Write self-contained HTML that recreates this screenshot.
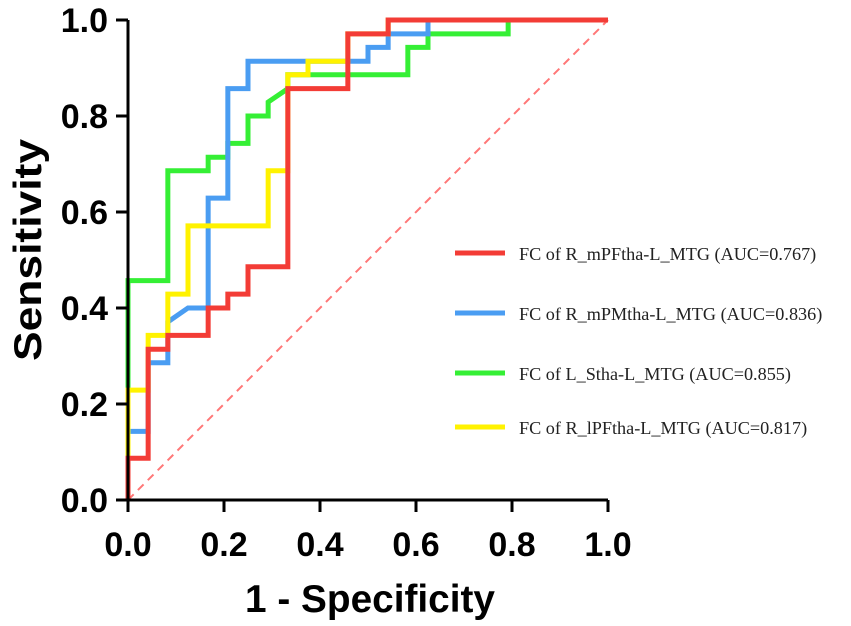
<!DOCTYPE html>
<html><head><meta charset="utf-8"><style>
body{margin:0;background:#fff}
svg{display:block}
.tick{font-family:"Liberation Sans",sans-serif;font-weight:bold;font-size:34px;fill:#000}
.leg{font-family:"Liberation Serif",serif;font-size:18.2px;fill:#222}
</style></head><body>
<svg id="chart" width="851" height="626" xmlns="http://www.w3.org/2000/svg">
<g id="plot"></g>
<g id="axes"></g>
<text x="370" y="612" text-anchor="middle" textLength="250" lengthAdjust="spacingAndGlyphs" style="font-family:'Liberation Sans',sans-serif;font-weight:bold;font-size:39px">1 - Specificity</text>
<text transform="translate(41,250) rotate(-90)" text-anchor="middle" textLength="222" lengthAdjust="spacingAndGlyphs" style="font-family:'Liberation Sans',sans-serif;font-weight:bold;font-size:39px">Sensitivity</text>
<g id="legend"></g>
</svg>
<script>
const tickVals=[0,0.2,0.4,0.6,0.8,1.0];
const tickLabels=["0.0","0.2","0.4","0.6","0.8","1.0"];
const seriesNames=["FC of R_mPFtha-L_MTG (AUC=0.767)","FC of R_mPMtha-L_MTG (AUC=0.836)","FC of L_Stha-L_MTG (AUC=0.855)","FC of R_lPFtha-L_MTG (AUC=0.817)"];
const seriesColors=["#f33c36","#4a9df2","#35ef35","#fff200"];
const redX=[0,0,0.042,0.042,0.083,0.083,0.167,0.167,0.208,0.208,0.25,0.25,0.333,0.333,0.458,0.458,0.542,0.542,1];
const redY=[0,0.087,0.087,0.314,0.314,0.343,0.343,0.4,0.4,0.429,0.429,0.486,0.486,0.857,0.857,0.971,0.971,1,1];
const blueX=[0,0,0.042,0.042,0.083,0.083,0.125,0.167,0.167,0.208,0.208,0.25,0.25,0.5,0.5,0.542,0.542,0.625,0.625,1];
const blueY=[0,0.143,0.143,0.286,0.286,0.371,0.4,0.4,0.629,0.629,0.857,0.857,0.914,0.914,0.943,0.943,0.971,0.971,1,1];
const greenX=[0,0,0,0.083,0.083,0.167,0.167,0.208,0.208,0.25,0.25,0.292,0.292,0.333,0.333,0.583,0.583,0.625,0.625,0.792,0.792,1];
const greenY=[0,0.229,0.457,0.457,0.686,0.686,0.714,0.714,0.743,0.743,0.8,0.8,0.829,0.857,0.886,0.886,0.943,0.943,0.971,0.971,1,1];
const yellowX=[0,0,0.042,0.042,0.083,0.083,0.125,0.125,0.292,0.292,0.333,0.333,0.375,0.375,0.458,0.458,0.542,0.542,1];
const yellowY=[0.086,0.229,0.229,0.343,0.343,0.429,0.429,0.571,0.571,0.686,0.686,0.886,0.886,0.914,0.914,0.971,0.971,1,1];
const NS="http://www.w3.org/2000/svg";
const X0=128,X1=608,Y0=500,Y1=20;
function sx(v){return X0+v*(X1-X0);}
function sy(v){return Y0-v*(Y0-Y1);}
function mk(t,a){const e=document.createElementNS(NS,t);for(const k in a)e.setAttribute(k,a[k]);return e;}
const plot=document.getElementById('plot'),axes=document.getElementById('axes'),leg=document.getElementById('legend');
const diag=mk('line',{x1:sx(0),y1:sy(0),x2:sx(1),y2:sy(1),stroke:'#f77',"stroke-width":2,"stroke-dasharray":"8,6"});


plot.appendChild(diag);
const series=[[redX,redY],[blueX,blueY],[greenX,greenY],[yellowX,yellowY]];
const names=['roc-curve-r-mpftha','roc-curve-r-mpmtha','roc-curve-l-stha','roc-curve-r-lpftha'];
[2,1,3,0].forEach(i=>{
 const [xs,ys]=series[i];
 const pts=xs.map((x,j)=>sx(x)+','+sy(ys[j])).join(' ');
 const p=mk('polyline',{points:pts,fill:'none',stroke:seriesColors[i],"stroke-width":5,"stroke-linejoin":"miter"});
 
 
 plot.appendChild(p);
});
const ax=mk('path',{d:`M${X0},${Y1} V${Y0} H${X1}`,fill:'none',stroke:'#000',"stroke-width":3});


axes.appendChild(ax);
tickVals.forEach((v,i)=>{
 axes.appendChild(mk('line',{x1:X0-12,x2:X0,y1:sy(v),y2:sy(v),stroke:'#000',"stroke-width":3}));
 axes.appendChild(mk('line',{x1:sx(v),x2:sx(v),y1:Y0,y2:Y0+12,stroke:'#000',"stroke-width":3}));
 const ty=mk('text',{x:X0-20,y:sy(v)+12,"text-anchor":"end",class:'tick'});ty.textContent=tickLabels[i];
 
 
 axes.appendChild(ty);
 const tx=mk('text',{x:sx(v),y:556,"text-anchor":"middle",class:'tick'});tx.textContent=tickLabels[i];
 
 
 axes.appendChild(tx);
});
const legY=[253,313,373,427];
seriesNames.forEach((n,i)=>{
 const g=mk('g',{});
 
 
 g.appendChild(mk('line',{x1:455,x2:505,y1:legY[i],y2:legY[i],stroke:seriesColors[i],"stroke-width":5}));
 const t=mk('text',{x:519,y:legY[i]+7,class:'leg'});t.textContent=n;g.appendChild(t);
 leg.appendChild(g);
});
</script>
</body></html>
